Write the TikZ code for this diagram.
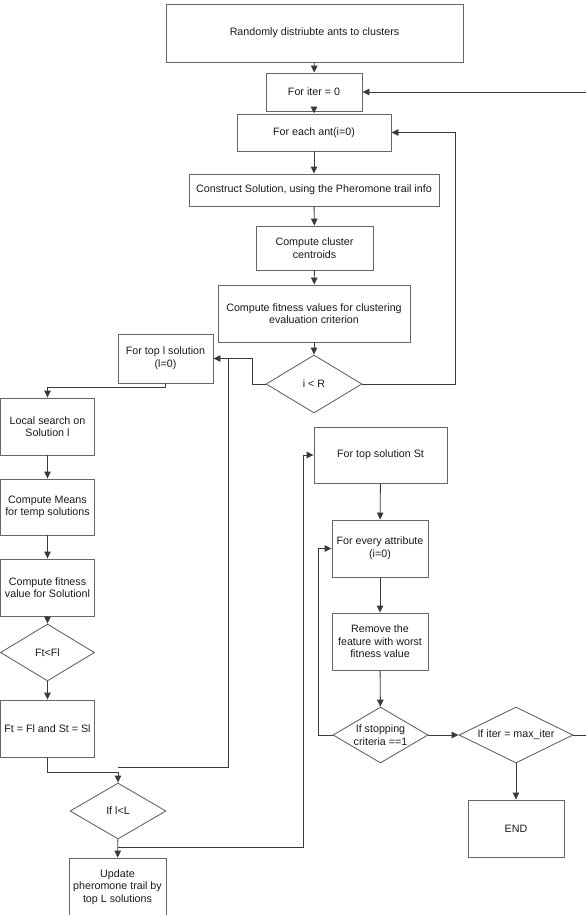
\documentclass[tikz,border=0pt]{standalone}
\usepackage{fontspec}
\setmainfont{Liberation Sans}
\usetikzlibrary{arrows.meta,shapes.geometric}
\definecolor{boxgray}{HTML}{666666}
\definecolor{linegray}{HTML}{3A3A3A}
\definecolor{txt}{HTML}{1A1A1A}
\begin{document}
\begin{tikzpicture}[x=1pt,y=-1pt,
  box/.style={draw=boxgray, line width=0.9pt, align=center, inner sep=1pt,
    text=txt, font=\fontsize{10.7}{12.6}\selectfont},
  dia/.style={shape=diamond, draw=boxgray, line width=0.9pt, inner sep=0pt},
  dlab/.style={align=center, text=txt, font=\fontsize{10.7}{12.6}\selectfont},
  line/.style={draw=linegray, line width=0.9pt},
  arrow/.style={line, -{Triangle[length=7pt,width=6.5pt]}}]
\useasboundingbox (0,0) rectangle (586,915);
\clip (0,0) rectangle (586,915);
\fill[white] (0,0) rectangle (586,915);
% main column
\node[box, minimum width=297, minimum height=58] (start) at (314.5,33) {Randomly distriubte ants to clusters};
\node[box, minimum width=96, minimum height=38] (iter) at (314,92) {For iter = 0};
\node[box, minimum width=154, minimum height=37] (ant) at (314,132.5) {For each ant(i=0)};
\node[box, minimum width=250, minimum height=32] (construct) at (314,190) {Construct Solution, using the Pheromone trail info};
\node[box, minimum width=117, minimum height=44] (centroid) at (314.5,248) {Compute cluster\\centroids};
\node[box, minimum width=192, minimum height=57] (fitness) at (314,313.5) {Compute fitness values for clustering\\evaluation criterion};
\node[dia, minimum width=96, minimum height=58] (iR) at (314,384) {};
\node[dlab] (iRt) at (iR.center) {i {\textless} R};
% left column
\node[box, minimum width=95, minimum height=49] (topl) at (165.5,358.5) {For top l solution\\(l=0)};
\node[box, minimum width=94, minimum height=57] (local) at (47.5,426.5) {Local search on\\Solution l};
\node[box, minimum width=94, minimum height=56] (means) at (47.5,507) {Compute Means\\for temp solutions};
\node[box, minimum width=94, minimum height=57] (cfit) at (47.5,587.5) {Compute fitness\\value for Solutionl};
\node[dia, minimum width=94, minimum height=57] (ftfl) at (47.5,652.5) {};
\node[dlab] (ftflt) at (ftfl.center) {Ft{\textless}Fl};
\node[box, minimum width=94, minimum height=57] (ft) at (47.5,728.5) {Ft = Fl and St = Sl};
\node[dia, minimum width=96, minimum height=56] (ifl) at (118,811) {};
\node[dlab] (iflt) at (ifl.center) {If l{\textless}L};
\node[box, minimum width=97, minimum height=58] (update) at (117.5,887) {Update\\pheromone trail by\\top L solutions};
% right column
\node[box, minimum width=133, minimum height=56] (topSt) at (380.5,455) {For top solution St};
\node[box, minimum width=96, minimum height=57] (attr) at (380,548.5) {For every attribute\\(i=0)};
\node[box, minimum width=96, minimum height=57] (remove) at (380,641.5) {Remove the\\feature with worst\\fitness value};
\node[dia, minimum width=95, minimum height=56] (stop) at (380.5,735) {};
\node[dlab] (stopt) at (stop.center) {If stopping\\criteria ==1};
\node[dia, minimum width=114, minimum height=56] (iterdec) at (516,735) {};
\node[dlab] (iterdect) at (iterdec.center) {If iter = max\_iter};
\node[box, minimum width=96, minimum height=57] (end) at (516,828.5) {END};
% junction points
\coordinate (j1) at (118,767);
\coordinate (j2) at (118,847);
% connectors main
\draw[arrow] (start) -- (iter);
\draw[arrow] (iter) -- (ant);
\draw[arrow] (ant) -- (construct);
\draw[arrow] (construct) -- (centroid);
\draw[arrow] (centroid) -- (fitness);
\draw[arrow] (fitness) -- (iR);
\draw[arrow] (iR.east) -- (455,384) |- (ant.east);
\draw[arrow] (iR.west) -- (252,384) |- (topl.east);
% left
\draw[arrow] (topl.south) -- ++(0,4) -| (local.north);
\draw[arrow] (local) -- (means);
\draw[arrow] (means) -- (cfit);
\draw[arrow] (cfit) -- (ftfl);
\draw[arrow] (ftfl) -- (ft);
\draw[arrow] (ft.south) -- ++(0,15) -| (ifl.north);
\draw[line] (j1) -| (228,359);
\draw[arrow] (ifl) -- (update);
\draw[arrow] (j2) -| (303,455) -- (topSt.west);
% right
\draw[arrow] (topSt) -- (attr);
\draw[arrow] (attr) -- (remove);
\draw[arrow] (remove) -- (stop);
\draw[arrow] (stop.west) -- (318,735) |- (attr.west);
\draw[arrow] (stop) -- (iterdec);
\draw[arrow] (iterdec) -- (end);
\draw[arrow] (iterdec.east) -- (592,735) |- (iter.east);
\end{tikzpicture}
\end{document}
